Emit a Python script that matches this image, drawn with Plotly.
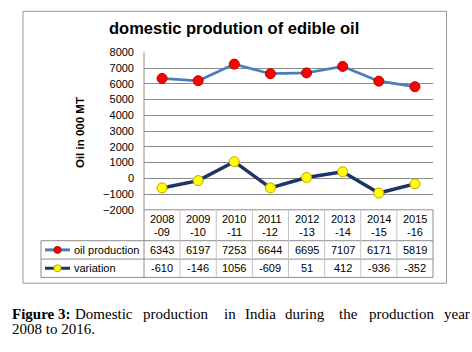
import plotly.graph_objects as go

# ---- data ----
years = ["2008-09", "2009-10", "2010-11", "2011-12", "2012-13", "2013-14", "2014-15", "2015-16"]
oil_production = [6343, 6197, 7253, 6644, 6695, 7107, 6171, 5819]
variation = [-610, -146, 1056, -609, 51, 412, -936, -352]
series_names = ["oil production", "variation"]
title_text = "domestic prodution of edible oil"
y_title = "Oil in 000 MT"

W, H = 472, 352
def px(x):
    return x / W
def py(y):
    return (H - y) / H

PLOT_L, PLOT_R, PLOT_T, PLOT_B = 144, 433, 48, 211
TABLE_L = 41
ROW1_T, ROW2_T, TABLE_B = 243, 262, 281

prod_line = "#4a7ebb"
var_line = "#1b3566"
FONT = "Liberation Sans, Arial, sans-serif"

fig = go.Figure()
fig.add_trace(go.Scatter(
    x=years, y=oil_production, mode="lines+markers", name=series_names[0],
    line=dict(color=prod_line, width=2.75),
    marker=dict(color="#ff0000", size=10, line=dict(color="#c00000", width=1)),
))
fig.add_trace(go.Scatter(
    x=years, y=variation, mode="lines+markers", name=series_names[1],
    line=dict(color=var_line, width=3.5),
    marker=dict(color="#ffff00", size=10, line=dict(color="#c8a000", width=1)),
))

shapes = []
# outer chart frame
shapes.append(dict(type="rect", xref="paper", yref="paper", x0=px(23), x1=px(446.5), y0=py(287), y1=py(5.5),
                   line=dict(color="#9a9a9a", width=1), layer="below"))
outer = "#8c8c8c"
inner = "#c4c4c4"
def hline(x0, x1, y, color):
    shapes.append(dict(type="line", xref="paper", yref="paper", x0=px(x0), x1=px(x1), y0=py(y), y1=py(y),
                       line=dict(color=color, width=1)))
def vline(x, y0, y1, color):
    shapes.append(dict(type="line", xref="paper", yref="paper", x0=px(x), x1=px(x), y0=py(y0), y1=py(y1),
                       line=dict(color=color, width=1)))

n = len(years)
colw = (PLOT_R - PLOT_L) / n
# table lines
hline(PLOT_L, PLOT_R, PLOT_B, outer)
hline(TABLE_L, PLOT_R, ROW1_T, outer)
hline(TABLE_L, PLOT_R, ROW2_T, outer)
hline(TABLE_L, PLOT_R, TABLE_B, outer)
vline(TABLE_L, ROW1_T, TABLE_B, outer)
vline(PLOT_L, PLOT_T, TABLE_B, outer)
vline(PLOT_R, PLOT_B, TABLE_B, outer)
for i in range(1, n):
    vline(PLOT_L + i * colw, PLOT_B, TABLE_B, inner)

# legend keys in the table
row_centers = [(ROW1_T + ROW2_T) / 2, (ROW2_T + TABLE_B) / 2]
key_styles = [(prod_line, "#ff0000", "#c00000"), (var_line, "#ffff00", "#c8a000")]
for yc, (lc, mc, me) in zip(row_centers, key_styles):
    shapes.append(dict(type="line", xref="paper", yref="paper", x0=px(45), x1=px(70), y0=py(yc), y1=py(yc),
                       line=dict(color=lc, width=3)))
    r = 3.6
    shapes.append(dict(type="circle", xref="paper", yref="paper", x0=px(57.5 - r), x1=px(57.5 + r),
                       y0=py(yc + r), y1=py(yc - r), fillcolor=mc, line=dict(color=me, width=1)))

annotations = []
def ann(text, x, y, xref="paper", xanchor="center", size=11, family=FONT, **kw):
    annotations.append(dict(text=text, x=x, y=y, xref=xref, yref="paper", xanchor=xanchor, yanchor="middle",
                            showarrow=False, font=dict(family=family, size=size, color="black"), **kw))

# title
ann("<b>" + title_text + "</b>", px(234), py(23), size=16.5)
# y axis title
ann("<b>" + y_title + "</b>", px(80), py(131.5), size=11.5, textangle=-90)
# header labels
for cat in years:
    top, bot = cat.split("-")
    ann(top, cat, py(221), xref="x")
    ann("-" + bot, cat, py(234), xref="x")
# row labels and values
for yc, name, vals in zip(row_centers, series_names, [oil_production, variation]):
    ann(name, px(72), py(yc), xanchor="left")
    for cat, v in zip(years, vals):
        ann(str(v), cat, py(yc), xref="x")

# caption (justified first line)
SERIF = "Liberation Serif, Times New Roman, serif"
cap_words = [("<b>Figure 3:</b>", 10), ("Domestic", 73), ("production", 141), ("in", 222), ("India", 243),
             ("during", 283), ("the", 337), ("production", 367), ("year", 442)]
for w, x in cap_words:
    ann(w, px(x), py(318.5), xanchor="left", size=15, family=SERIF)
ann("2008 to 2016.", px(10), py(334), xanchor="left", size=15, family=SERIF)

fig.update_layout(
    width=W, height=H, margin=dict(l=0, r=0, t=0, b=0),
    paper_bgcolor="white", plot_bgcolor="white",
    showlegend=False,
    shapes=shapes, annotations=annotations,
    xaxis=dict(domain=[px(PLOT_L), px(PLOT_R)], type="category", categoryorder="array", categoryarray=years,
               range=[-0.5, n - 0.5], showticklabels=False, showgrid=False, zeroline=False, ticks=""),
    yaxis=dict(domain=[py(PLOT_B), py(PLOT_T)], range=[-2000, 8000], dtick=1000, tick0=0,
               showgrid=True, gridcolor="#8c8c8c", gridwidth=1, zeroline=False, showline=False,
               ticks="", ticklabelstandoff=9,
               tickfont=dict(family=FONT, size=11, color="black")),
)

fig.write_html("out.html")
